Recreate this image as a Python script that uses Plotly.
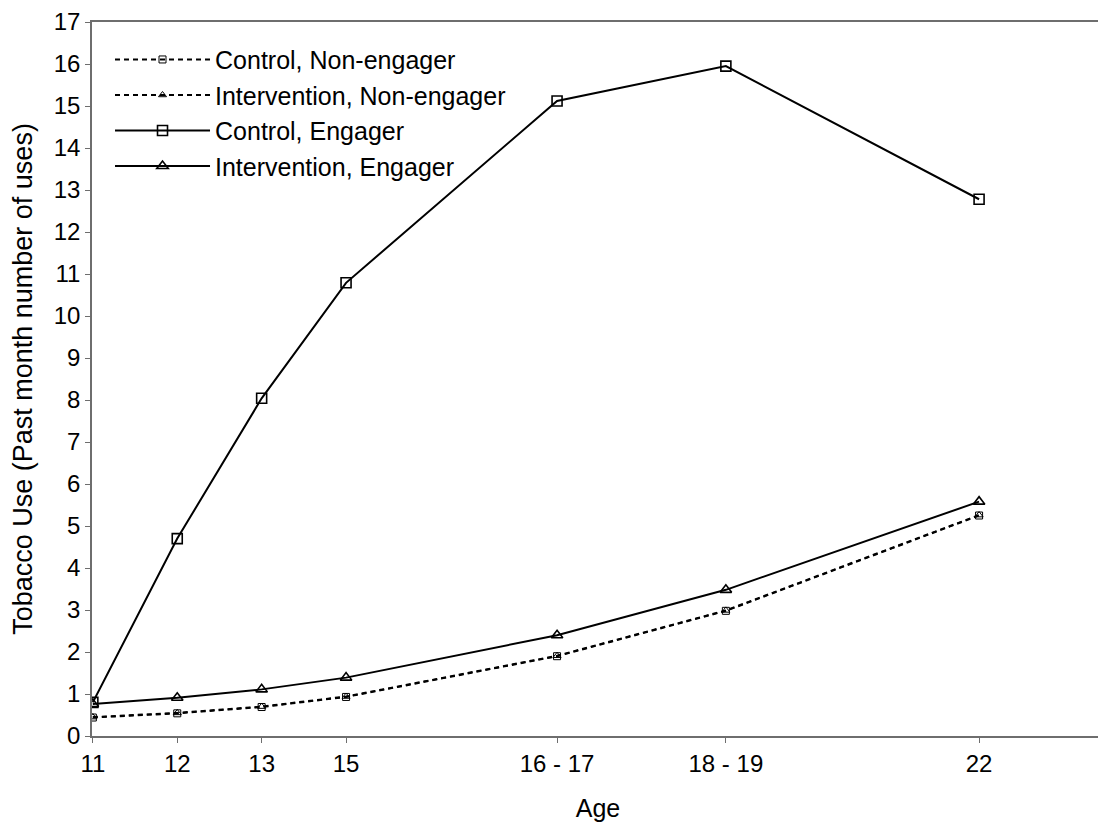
import plotly.graph_objects as go

# Data
age_labels = ["11", "12", "13", "15", "16 - 17", "18 - 19", "22"]
age_pos = [0, 1, 2, 3, 5.5, 7.5, 10.5]  # study-time position of each wave

control_non_engager = [0.44, 0.54, 0.69, 0.93, 1.90, 2.98, 5.25]
intervention_non_engager = [0.45, 0.55, 0.70, 0.94, 1.91, 2.99, 5.26]
control_engager = [0.80, 4.70, 8.04, 10.79, 15.12, 15.95, 12.78]
intervention_engager = [0.76, 0.91, 1.11, 1.39, 2.40, 3.48, 5.58]

series = [
    ("Control, Non-engager", control_non_engager, "square-open", "5px,4px", 7, 1),
    ("Intervention, Non-engager", intervention_non_engager, "triangle-up-open", "5px,4px", 7, 1),
    ("Control, Engager", control_engager, "square-open", "solid", 10, 1.6),
    ("Intervention, Engager", intervention_engager, "triangle-up-open", "solid", 10, 1.6),
]

FONT = "Liberation Sans, Arial, sans-serif"

fig = go.Figure()
for name, vals, sym, dash, msize, mlw in series:
    fig.add_trace(go.Scatter(
        x=age_pos, y=vals, name=name, mode="lines+markers",
        line=dict(color="black", width=2, dash=dash),
        marker=dict(symbol=sym, size=msize, color="black",
                    line=dict(color="black", width=mlw)),
    ))

axis_common = dict(
    showline=True, linecolor="#6e6e6e", linewidth=1.5, mirror=True,
    ticks="outside", ticklen=5, tickcolor="#6e6e6e", tickwidth=1,
    showgrid=False, zeroline=False, automargin=False,
    ticklabeloverflow="allow",
    tickfont=dict(family=FONT, size=24, color="black"),
)

# page body has an 8px margin, so the figure is sized to fit the window
fig.update_layout(
    width=1098, height=821,
    margin=dict(l=84, r=2, t=14, b=93, autoexpand=False),
    paper_bgcolor="white", plot_bgcolor="white",
    font=dict(family=FONT, color="black"),
    xaxis=dict(
        range=[-0.01, 11.98],
        tickmode="array", tickvals=age_pos, ticktext=age_labels,
        title=dict(text="Age", font=dict(family=FONT, size=25, color="black"), standoff=24),
        **axis_common,
    ),
    yaxis=dict(
        range=[0, 17], tickmode="linear", tick0=0, dtick=1,
        title=dict(text="Tobacco Use (Past month number of uses)",
                   font=dict(family=FONT, size=27, color="black"), standoff=20),
        **axis_common,
    ),
    legend=dict(
        x=0.0178, y=0.9794, xanchor="left", yanchor="top",
        bgcolor="rgba(0,0,0,0)", borderwidth=0,
        font=dict(family=FONT, size=25, color="black"),
        itemwidth=95, tracegroupgap=0,
    ),
    showlegend=True,
)

fig.write_html("out.html")
